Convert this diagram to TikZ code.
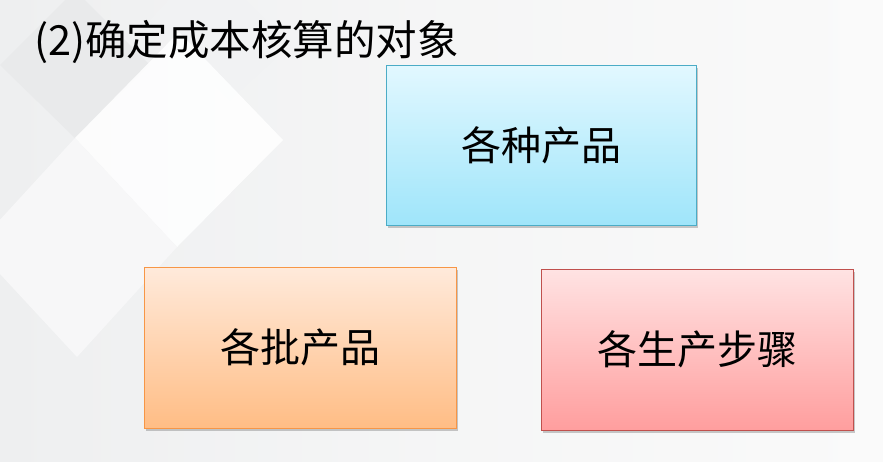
\documentclass[tikz,border=0pt]{standalone}
\usepackage{fontspec}
\newfontfamily\cjk{Noto Sans CJK SC}
\usetikzlibrary{shadows}
\definecolor{bgL}{HTML}{EEEFF0}
\definecolor{bgR}{HTML}{FAFAFA}
\definecolor{dgray}{HTML}{E9EAEB}
\definecolor{dlight}{HTML}{F7F7F8}
\definecolor{cyanT}{HTML}{E2F8FF}
\definecolor{cyanB}{HTML}{9FE5FA}
\definecolor{cyanD}{HTML}{4BACC6}
\definecolor{orT}{HTML}{FFEADB}
\definecolor{orB}{HTML}{FFBD85}
\definecolor{orD}{HTML}{F79646}
\definecolor{rdT}{HTML}{FFE3E3}
\definecolor{rdB}{HTML}{FF9E9E}
\definecolor{rdD}{HTML}{C0504D}
\tikzset{
  box/.style={rectangle, draw, line width=0.9pt, minimum width=310pt, minimum height=160pt,
    inner sep=0pt, font=\cjk\fontsize{40}{48}\selectfont, text=black,
    drop shadow={shadow xshift=2pt, shadow yshift=-3pt, opacity=0.35, fill=black!60}},
  cyanbox/.style={box, draw=cyanD, top color=cyanT, bottom color=cyanB},
  orbox/.style={box, draw=orD, top color=orT, bottom color=orB},
  rdbox/.style={box, draw=rdD, top color=rdT, bottom color=rdB},
  titletext/.style={inner sep=0pt, font=\cjk\fontsize{41.5}{48}\selectfont, text=black}
}
\begin{document}
\begin{tikzpicture}[x=1pt,y=-1pt]
\useasboundingbox (0,0) rectangle (883,461);
% background
\shade[left color=bgL, right color=bgR, middle color=bgR!60!bgL] (0,0) rectangle (883,461);
\fill[dgray] (75,-10) -- (150,65) -- (75,138) -- (0,65) -- cycle;
\fill[dgray!50!bgR] (205,-40) -- (290,45) -- (230,100) -- (150,20) -- cycle;
\fill[white, opacity=0.85] (179,32) -- (283,140) -- (177,247) -- (75,138) -- cycle;
\fill[dlight] (75,138) -- (177,247) -- (77,357) -- (-25,247) -- cycle;
% title
\node[titletext, anchor=base west] (title) at (34,55) {(2)确定成本核算的对象};
% boxes
\node[cyanbox] (kind) at (541,145) {各种产品};
\node[orbox, minimum width=312pt, minimum height=161pt] (batch) at (300,347.5) {各批产品};
\node[rdbox, minimum width=312pt, minimum height=161pt] (step) at (697,349.5) {各生产步骤};
\end{tikzpicture}
\end{document}
